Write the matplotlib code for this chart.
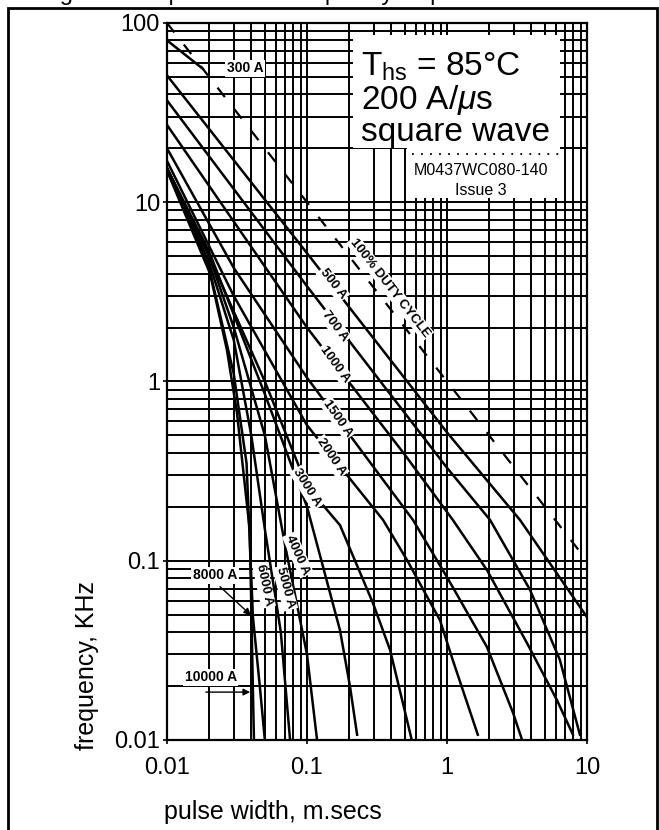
import matplotlib
matplotlib.use('Agg')
import matplotlib.pyplot as plt
from matplotlib.patches import Rectangle
from matplotlib.ticker import LogLocator, NullFormatter

plt.rcParams['font.family'] = ['Liberation Sans', 'DejaVu Sans']
plt.rcParams['mathtext.fontset'] = 'custom'
plt.rcParams['mathtext.rm'] = 'Liberation Sans'
plt.rcParams['mathtext.it'] = 'Liberation Sans:italic'

# pulse width (ms) vs frequency (kHz)
duty_t = [0.01, 10]
duty_f = [100, 0.1]

t_300 = [0.01, 0.018]
f_300 = [80, 55.6]
t_500 = [0.01, 0.1, 1, 3.32, 10]
f_500 = [51, 5.2, 0.52, 0.169, 0.0485]
t_700 = [0.01, 0.1, 1, 2.03, 3.91, 6.4, 8.9]
f_700 = [37, 3.4, 0.33, 0.169, 0.069, 0.028, 0.0107]
t_1000 = [0.01, 0.1, 0.5, 1.1, 1.93, 3.73, 6.1, 7.94]
f_1000 = [27, 2.0, 0.39, 0.169, 0.0887, 0.0347, 0.0167, 0.0107]
t_1500 = [0.01, 0.03, 0.1, 0.571, 1.0, 1.93, 2.96, 3.44]
f_1500 = [20, 4.3, 1.05, 0.169, 0.081, 0.033, 0.0142, 0.01]
t_2000 = [0.01, 0.03, 0.1, 0.349, 0.518, 0.89, 1.1, 1.66]
f_2000 = [17, 3.0, 0.57, 0.169, 0.101, 0.0467, 0.0279, 0.0107]
t_3000 = [0.01, 0.02, 0.05, 0.1, 0.172, 0.296, 0.392, 0.518, 0.56]
f_3000 = [15.5, 5.0, 1.0, 0.26, 0.158, 0.058, 0.0318, 0.0129, 0.01]
t_4000 = [0.01, 0.02, 0.05, 0.1, 0.172, 0.203, 0.228]
f_4000 = [15.5, 5.3, 0.85, 0.2, 0.041, 0.0198, 0.0107]
t_5000 = [0.01, 0.02, 0.03, 0.05, 0.07, 0.1, 0.118]
f_5000 = [15.5, 5.0, 2.0, 0.5, 0.12, 0.03, 0.01]
t_6000 = [0.01, 0.02, 0.03, 0.04, 0.05, 0.065, 0.0757]
f_6000 = [15.5, 4.6, 1.7, 0.5, 0.15, 0.04, 0.01]
t_8000 = [0.01, 0.02, 0.03, 0.037, 0.0411, 0.046, 0.05]
f_8000 = [15.3, 4.3, 1.1, 0.35, 0.0485, 0.02, 0.01]
t_10000 = [0.01, 0.0203, 0.0268, 0.0316, 0.039, 0.0411, 0.0418]
f_10000 = [15, 4.0, 1.5, 0.67, 0.148, 0.0185, 0.01]

fig = plt.figure(figsize=(6.59, 8.30), dpi=100)
ax = fig.add_axes([167 / 659, 1 - 740 / 830, 420 / 659, 717 / 830])

solid = [(t_300, f_300), (t_500, f_500), (t_700, f_700), (t_1000, f_1000),
         (t_1500, f_1500), (t_2000, f_2000), (t_3000, f_3000),
         (t_4000, f_4000), (t_5000, f_5000), (t_6000, f_6000),
         (t_8000, f_8000), (t_10000, f_10000)]
for t, f in solid:
    ax.plot(t, f, color='black', lw=1.8, zorder=3)
ax.plot(duty_t, duty_f, color='black', lw=1.6, dashes=(5.4, 6.9), zorder=3)

ax.set_xscale('log')
ax.set_yscale('log')
ax.set_xlim(0.01, 10)
ax.set_ylim(0.01, 100)

ax.xaxis.set_minor_locator(LogLocator(base=10, subs=range(2, 10)))
ax.yaxis.set_minor_locator(LogLocator(base=10, subs=range(2, 10)))
ax.xaxis.set_minor_formatter(NullFormatter())
ax.yaxis.set_minor_formatter(NullFormatter())
ax.set_xticks([0.01, 0.1, 1, 10])
ax.set_xticklabels(['0.01', '0.1', '1', '10'])
ax.set_yticks([0.01, 0.1, 1, 10, 100])
ax.set_yticklabels(['0.01', '0.1', '1', '10', '100'])
ax.tick_params(which='major', labelsize=17, length=3, width=1.2)
ax.tick_params(axis='y', which='major', pad=2)
ax.tick_params(axis='x', which='major', pad=9)
ax.tick_params(which='minor', length=0)
ax.grid(which='both', color='black', lw=1.4, zorder=1)
ax.set_axisbelow(True)
for s in ax.spines.values():
    s.set_linewidth(1.6)

fig.text(273 / 659, 1 - 812 / 830, 'pulse width, m.secs', fontsize=18,
         ha='center', va='center')
fig.text(87 / 659, 1 - 665 / 830, 'frequency, KHz', rotation=90,
         fontsize=18, ha='center', va='center')

# condition box
ax.add_patch(Rectangle((0.213, 20.1), 6.4 - 0.213, 85.7 - 20.1,
                       facecolor='white', edgecolor='none', zorder=4))
ax.add_patch(Rectangle((0.518, 10.6), 6.4 - 0.518, 20.1 - 10.6,
                       facecolor='white', edgecolor='none', zorder=4))
ax.plot([0.56, 6.3], [18.6, 18.6], color='black', lw=1.3, ls=(0, (1, 4)), zorder=5)
ax.text(0.243, 70.3, '$\\mathrm{T_{hs}}$ = 85°C\n200 A/$\\mu$s\nsquare wave',
        fontsize=24, zorder=5, va='top', ha='left', linespacing=1.0)
ax.text(1.75, 14.2, 'M0437WC080-140', fontsize=11.5, ha='center', va='baseline', zorder=5)
ax.text(1.75, 11.0, 'Issue 3', fontsize=11.5, ha='center', va='baseline', zorder=5)

lab = dict(fontsize=9.5, fontweight='bold', ha='center', va='center',
           rotation_mode='anchor', zorder=6,
           bbox=dict(facecolor='white', edgecolor='none', pad=1))
ax.text(0.392, 3.33, '100% DUTY CYCLE', rotation=-52, **lab)
ax.text(0.153, 3.5, '500 A', rotation=-52, **lab)
ax.text(0.158, 2.04, '700 A', rotation=-53, **lab)
ax.text(0.158, 1.25, '1000 A', rotation=-54, **lab)
ax.text(0.166, 0.625, '1500 A', rotation=-55, **lab)
ax.text(0.148, 0.38, '2000 A', rotation=-56, **lab)
ax.text(0.10, 0.255, '3000 A', rotation=-58, **lab)
ax.text(0.086, 0.108, '4000 A', rotation=-66, **lab)
ax.text(0.0697, 0.0705, '5000 A', rotation=-75, **lab)
ax.text(0.0493, 0.073, '6000 A', rotation=-78, **lab)
hl = dict(lab, fontsize=10)
ax.text(0.036, 56, '300 A', **hl)
ax.text(0.022, 0.083, '8000 A', **hl)
ax.text(0.0206, 0.0224, '10000 A', **hl)
ax.annotate('', xy=(0.0411, 0.0485), xytext=(0.0231, 0.0735),
            arrowprops=dict(arrowstyle='-|>', color='black', lw=1), zorder=6)
ax.annotate('', xy=(0.0411, 0.0185), xytext=(0.0181, 0.0185),
            arrowprops=dict(arrowstyle='-|>', color='black', lw=1), zorder=6)

# page frame and clipped caption
fig.patches.append(Rectangle((8 / 659, -0.05), 649 / 659, 1.05 - 8 / 830,
                             transform=fig.transFigure, fill=False,
                             edgecolor='black', lw=2))
fig.text(0.06, 1.0, 'Figure 11 Square wave frequency vs pulse width',
         fontsize=17, va='baseline')

fig.savefig('out.png', dpi=100)
